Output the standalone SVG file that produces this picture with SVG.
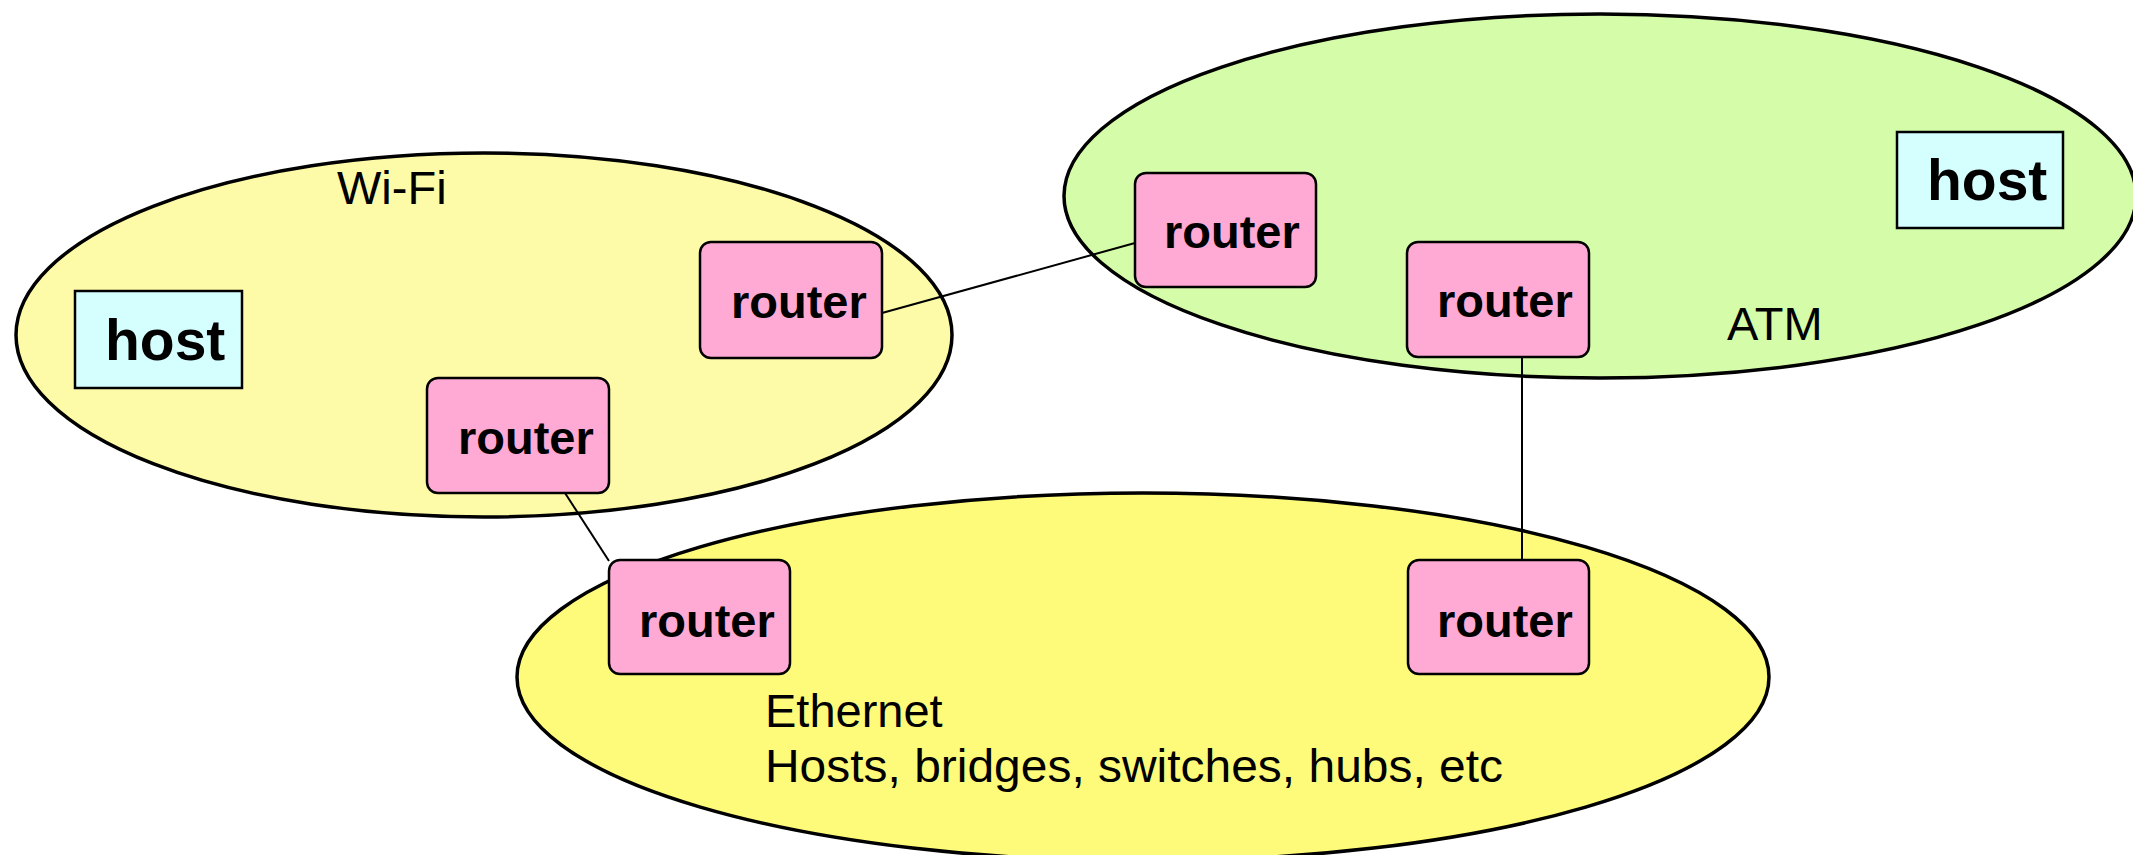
<svg xmlns="http://www.w3.org/2000/svg" width="2133" height="855" viewBox="0 0 2133 855">
<style>
.net{stroke:#000;stroke-width:3.5}
.wifi{fill:#FEFBA8}
.atm{fill:#D5FCA9}
.eth{fill:#FEFB7B}
.router rect{fill:#FEAAD4;stroke:#000;stroke-width:2.5}
.host rect{fill:#D5FFFF;stroke:#000;stroke-width:2.5}
.rt{font-family:"Liberation Sans",Arial,sans-serif;font-weight:bold;font-size:47px;fill:#000}
.ht{font-family:"Liberation Sans",Arial,sans-serif;font-weight:bold;font-size:57px;fill:#000}
.lbl{font-family:"Liberation Sans",Arial,sans-serif;font-size:47px;fill:#000}
.conn line{stroke:#000;stroke-width:2}
</style>
<rect width="2133" height="855" fill="#fff"/>
<g id="net-wifi">
<ellipse class="net wifi" cx="484" cy="335" rx="468" ry="182"/>
<text class="lbl" x="337" y="204" font-size="46">Wi-Fi</text>
</g>
<g id="net-atm">
<ellipse class="net atm" cx="1600" cy="196" rx="536" ry="182"/>
<text class="lbl" x="1727" y="340" font-size="45">ATM</text>
</g>
<g id="net-ethernet">
<ellipse class="net eth" cx="1143" cy="677" rx="626" ry="184"/>
<text class="lbl" x="765" y="727" font-size="47.5">Ethernet</text>
<text class="lbl" x="765" y="782" font-size="48" textLength="738" lengthAdjust="spacingAndGlyphs">Hosts, bridges, switches, hubs, etc</text>
</g>
<g id="connectors" class="conn">
<line x1="882" y1="313" x2="1135" y2="243"/>
<line x1="565" y1="493" x2="609" y2="561"/>
<line x1="1522" y1="356" x2="1522" y2="560"/>
</g>
<g id="host-wifi" class="host">
<rect x="75" y="291" width="167" height="97"/>
<text class="ht" x="105" y="360">host</text>
</g>
<g id="router-wifi-1" class="router">
<rect x="700" y="242" width="182" height="116" rx="11"/>
<text class="rt" x="731" y="318">router</text>
</g>
<g id="router-wifi-2" class="router">
<rect x="427" y="378" width="182" height="115" rx="11"/>
<text class="rt" x="458" y="454">router</text>
</g>
<g id="router-atm-1" class="router">
<rect x="1135" y="173" width="181" height="114" rx="11"/>
<text class="rt" x="1164" y="248">router</text>
</g>
<g id="router-atm-2" class="router">
<rect x="1407" y="242" width="182" height="115" rx="11"/>
<text class="rt" x="1437" y="317">router</text>
</g>
<g id="host-atm" class="host">
<rect x="1897" y="132" width="166" height="96"/>
<text class="ht" x="1927" y="200">host</text>
</g>
<g id="router-eth-1" class="router">
<rect x="609" y="560" width="181" height="114" rx="11"/>
<text class="rt" x="639" y="637">router</text>
</g>
<g id="router-eth-2" class="router">
<rect x="1408" y="560" width="181" height="114" rx="11"/>
<text class="rt" x="1437" y="637">router</text>
</g>
</svg>
